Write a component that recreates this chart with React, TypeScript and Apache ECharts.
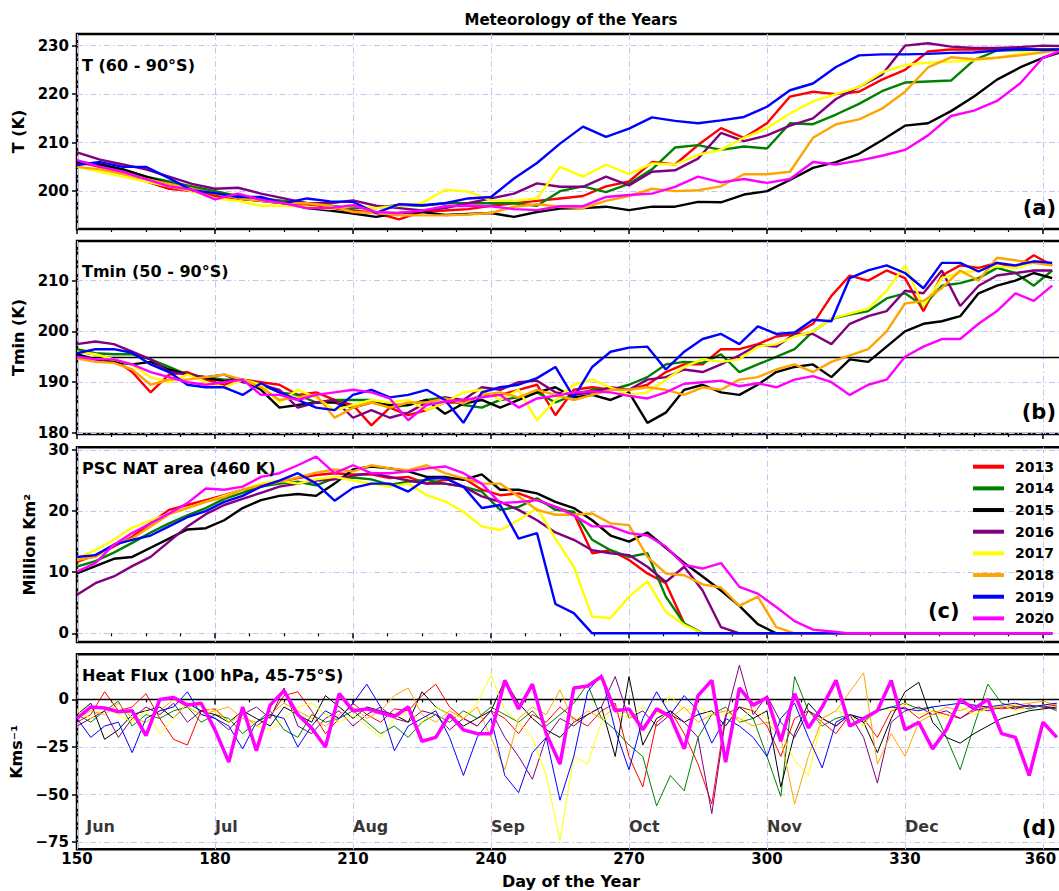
import React, { useEffect, useRef } from "react";
import * as echarts from "echarts";

const FONT = "DejaVu Sans";

const YEARS = ["2013", "2014", "2015", "2016", "2017", "2018", "2019", "2020"];
const YEAR_COLORS = ["#ff0000", "#008000", "#000000", "#800080", "#ffff00", "#ffa500", "#0000ff", "#ff00ff"];

// ---- Panel (a): polar-cap mean temperature, 60-90°S ----
const DAYS_T = [150, 155, 160, 165, 170, 175, 180, 185, 190, 195, 200, 205, 210, 215, 220, 225, 230, 235, 240, 245, 250, 255, 260, 265, 270, 275, 280, 285, 290, 295, 300, 305, 310, 315, 320, 325, 330, 335, 340, 345, 350, 355, 360, 365];
const T_2013 = [206, 205, 204, 202, 200.5, 200, 199, 198.5, 198, 197.5, 197, 196.5, 196, 195.5, 194.2, 195.8, 196, 196.3, 197, 197.5, 198, 198.5, 199, 201, 202, 206, 205.5, 209.5, 213, 211, 214, 219.5, 220.5, 220, 220.5, 223, 225, 228.8, 229.2, 229.2, 229.3, 229.4, 229.2, 229.3];
const T_2014 = [206, 205.5, 204.5, 203, 202, 201, 200, 199, 198.5, 198, 197.5, 197, 196.5, 196.5, 197.2, 197, 197.5, 197.5, 197.5, 197.5, 197, 200, 201, 199.8, 201.5, 204.5, 209, 209.5, 208.5, 209.2, 208.8, 214, 213.8, 215.8, 218, 220.6, 222.4, 222.6, 222.8, 227, 229, 229.1, 229.2, 229.3];
const T_2015 = [206, 205.5, 204.5, 203, 201.5, 200.5, 199.5, 198.5, 198, 197.5, 196.5, 196, 195.4, 194.7, 195.5, 195.7, 195.1, 195.3, 195.5, 194.7, 195.7, 196.4, 196.5, 196.8, 196.1, 196.8, 196.8, 197.8, 197.7, 199.3, 200, 202.3, 204.8, 206, 207.7, 210.5, 213.5, 214, 216.5, 219.5, 223, 225.5, 227.5, 229];
const T_2016 = [208, 206.5, 205.5, 204.5, 203, 201.5, 200.5, 200.7, 199.5, 198.5, 197.5, 197.5, 198.1, 197, 196.5, 196, 196.5, 197.5, 198.5, 199.5, 201.6, 200.9, 200.9, 203, 201.2, 204, 204.3, 206.7, 212, 210.3, 211.5, 213.5, 215, 219, 221.5, 224, 230, 230.5, 229.8, 229.5, 229.5, 229.7, 230, 229.9];
const T_2017 = [205, 204, 203, 202, 201, 200, 198.5, 198, 197, 197, 196.8, 196.3, 197, 196.5, 197, 197.5, 200.3, 199.9, 198.1, 198, 198.5, 205, 203, 205.5, 203.5, 205.7, 205.5, 207.5, 208.5, 211, 213, 216, 218.5, 220, 221.5, 224.5, 226, 226.5, 226.7, 227, 227.5, 228.3, 228.8, 229.2];
const T_2018 = [205, 204.5, 203.5, 202.5, 201.5, 200.5, 199.5, 198.5, 198, 197.5, 197.5, 197, 195.7, 195.5, 195, 195, 195, 195.2, 195.5, 196.8, 197.3, 196.8, 196.5, 198, 199, 200.5, 200, 200.2, 201, 203.5, 203.5, 204, 211, 213.8, 214.8, 217, 220.5, 225.5, 227.6, 227.2, 227.5, 228, 228.6, 229.2];
const T_2019 = [205.4, 206, 205, 205, 202.7, 200.2, 199.6, 198.8, 198.8, 197.5, 198.5, 197.9, 197.8, 195.5, 197.3, 197.1, 197.5, 198.5, 198.8, 202.6, 205.8, 209.8, 213.3, 211.2, 212.9, 215.2, 214.5, 214, 214.6, 215.3, 217.4, 220.8, 222.2, 225.6, 228, 228.2, 228.2, 228.3, 228.5, 228.6, 229, 229.3, 229.1, 229.2];
const T_2020 = [206.4, 205, 204, 202.5, 201, 200.3, 198.3, 199.5, 198.2, 197.5, 196.5, 196.5, 197.1, 195.7, 195.5, 196, 196.9, 197, 196.9, 196.3, 196.1, 196.9, 196.9, 198.8, 199.2, 199.5, 200.9, 203, 201.8, 202.5, 201.7, 202.5, 206, 205.5, 206.3, 207.3, 208.5, 211.5, 215.5, 216.6, 218.6, 222.2, 227.5, 229.4];

// ---- Panels (b) and (c) share a 4-day sampling ----
const DAYS_4 = [150, 154, 158, 162, 166, 170, 174, 178, 182, 186, 190, 194, 198, 202, 206, 210, 214, 218, 222, 226, 230, 234, 238, 242, 246, 250, 254, 258, 262, 266, 270, 274, 278, 282, 286, 290, 294, 298, 302, 306, 310, 314, 318, 322, 326, 330, 334, 338, 342, 346, 350, 354, 358, 362];

// (b) minimum temperature, 50-90°S
const TMIN_2013 = [196, 195.5, 194.5, 192, 188, 191.5, 192, 190.5, 189.5, 190.5, 190, 189.5, 187.5, 188, 186.5, 185.5, 181.5, 185, 183.5, 184.5, 186, 186, 187.5, 187.5, 188.5, 189.5, 183.5, 188.5, 189, 188.5, 188.5, 189.5, 192, 193.5, 193.5, 196.5, 196.5, 197.5, 199, 199.5, 201.5, 207, 211, 210, 212, 210.5, 204, 211, 213, 212.5, 213.5, 212.5, 215, 213];
const TMIN_2014 = [196.5, 195.7, 195.5, 195.5, 194.5, 193, 191.5, 191, 190.5, 190.5, 189.5, 188, 187.5, 186, 186.5, 186.5, 186.5, 185, 185.5, 186.5, 187, 185.5, 185, 186.5, 187, 188, 186, 187.5, 188.5, 188.5, 189.5, 191, 193.5, 194, 193.8, 195.5, 192, 193.5, 195, 196.5, 200, 202.5, 203.3, 204, 206.5, 207.5, 205, 209, 209.5, 210.5, 212.5, 211.5, 209, 212];
const TMIN_2015 = [195.5, 194.5, 194, 193.5, 194, 192.5, 191.5, 190.8, 190.2, 190.5, 188.5, 185, 185.5, 186, 186, 185, 186, 185.5, 185.5, 186.5, 183.8, 185.8, 186.5, 185, 186.5, 188, 189, 187, 187.5, 186.5, 188, 182, 184, 188.5, 189.5, 188, 187.5, 189.5, 192, 193, 193.5, 191, 194.5, 194, 197, 200, 201.5, 202, 203, 207.5, 209, 210, 211.5, 210.5];
const TMIN_2016 = [197.5, 198, 197.5, 196, 194.5, 192, 191.5, 191, 191.5, 190, 189.5, 188.5, 185, 186, 186.5, 183, 184.5, 183, 184, 186, 187, 186.5, 189, 188.5, 190, 190.3, 188, 187.5, 188, 189, 188.5, 190.5, 191, 192.5, 192, 193.5, 195.3, 197.3, 197, 199.5, 199.5, 197.5, 201.5, 203, 204, 208, 207.5, 212, 205, 209, 211, 211.5, 212, 212];
const TMIN_2017 = [196, 195.5, 194.5, 193.5, 191, 190, 191.5, 190, 189, 190.5, 189.5, 186, 188.5, 187, 184.5, 185.5, 186.5, 186, 186.5, 184.5, 186, 188, 188.5, 186.5, 188.5, 182.5, 186.5, 189.5, 190.5, 189, 187.5, 188, 190.5, 193, 194.5, 194, 194.5, 197, 197.5, 199, 200, 202.5, 203.5, 204.5, 208, 213, 205, 210.5, 211.5, 212, 212.8, 212.5, 213.5, 213];
const TMIN_2018 = [194.7, 194, 193.8, 192.5, 189.5, 190.5, 190.5, 191, 191.5, 190.5, 189, 186.5, 187, 187.5, 183, 185, 186, 185, 186, 186, 186.8, 185.8, 187.5, 188, 187, 188.5, 187.5, 186.5, 187.5, 188.5, 188.5, 189, 188.5, 187.5, 189, 188.5, 190.5, 191, 192.5, 193.5, 192, 194, 195.3, 196.5, 200, 205.5, 206, 208.5, 212, 210, 214.5, 214, 213.5, 213];
const TMIN_2019 = [195.7, 196.5, 196.5, 195.8, 193.5, 192, 189.5, 189, 189, 187.5, 189.8, 188, 186.5, 185, 184.5, 187.5, 188.5, 187, 187.5, 188.5, 186.5, 182, 188, 189, 189.5, 190.8, 193, 187, 193, 196, 196.8, 197, 192.5, 196, 198.5, 199.5, 197.5, 201, 199.5, 199.8, 202.3, 202, 210.5, 212, 213, 211.5, 208.5, 213.5, 213.5, 211.8, 213.5, 213, 213.8, 213.5];
const TMIN_2020 = [195, 194.5, 194.5, 193.5, 192, 191, 190, 189.5, 190, 190.5, 187.5, 187.5, 186.5, 187.5, 188, 188.5, 188, 186.8, 182.5, 185.5, 186.2, 186.5, 187, 187.5, 185, 186.8, 187.3, 188, 188.2, 188, 187.3, 186.8, 188, 189.7, 190, 190.3, 189.2, 189.8, 189, 190.5, 191.2, 190, 187.5, 189.5, 190.5, 195, 197, 198.5, 198.5, 201.5, 204, 207.5, 206, 209];
const TMIN_THRESHOLD = 195;

// (c) PSC NAT area at 460 K, million km²
const NAT_2013 = [11.7, 12.8, 14.2, 15.8, 18, 20.2, 21, 21.8, 22.6, 23.5, 24, 24.8, 25.4, 25.9, 26.2, 26, 26, 25.4, 25.6, 24.5, 25.1, 25.4, 23.5, 22.6, 22.9, 21.8, 20.7, 19.6, 13.1, 13.6, 12, 9.8, 8.2, 1.6, 0, 0, 0, 0, 0, 0, 0, 0, 0, 0, 0, 0, 0, 0, 0, 0, 0, 0, 0, 0];
const NAT_2014 = [10.9, 11.8, 13.2, 14.8, 16.5, 18, 19.3, 20.5, 22, 23, 24, 24.5, 24.8, 24.2, 25.4, 25.5, 25.2, 24.3, 24.8, 25.1, 24.5, 24, 23.2, 20.2, 20.7, 22.1, 20.2, 19.9, 15.3, 13.6, 12.5, 13.1, 6, 1.6, 0, 0, 0, 0, 0, 0, 0, 0, 0, 0, 0, 0, 0, 0, 0, 0, 0, 0, 0, 0];
const NAT_2015 = [9.8, 11, 12.2, 12.5, 14, 15.5, 17, 17.2, 18.5, 20.5, 21.8, 22.5, 22.8, 22.5, 24.5, 26.8, 27.3, 27, 26.5, 25.6, 25.6, 25.1, 26, 23.5, 23.5, 22.9, 21.5, 20.5, 18.5, 16, 15, 16.5, 14, 11.5, 9.3, 7, 4.5, 1.5, 0, 0, 0, 0, 0, 0, 0, 0, 0, 0, 0, 0, 0, 0, 0, 0];
const NAT_2016 = [6.3, 8.2, 9.3, 11, 12.5, 15, 17.5, 19.5, 21, 22, 23, 24, 24.5, 25, 25.2, 25.8, 26.2, 25.6, 25, 24.5, 24.5, 24, 22.4, 21.5, 20.2, 18.5, 16.5, 15.3, 13.6, 13.1, 12.8, 10.9, 8.4, 10.9, 7, 1, 0, 0, 0, 0, 0, 0, 0, 0, 0, 0, 0, 0, 0, 0, 0, 0, 0, 0];
const NAT_2017 = [12.3, 13.6, 15.3, 17.3, 18.5, 19.5, 20.5, 21.5, 22.5, 23.5, 24.5, 25, 24.5, 25.2, 25.6, 25, 24.5, 24, 24.5, 22.6, 21.6, 19.9, 17.5, 16.9, 18.5, 20.5, 15.5, 10.9, 2.7, 2.5, 6, 8.5, 3.5, 1.4, 0, 0, 0, 0, 0, 0, 0, 0, 0, 0, 0, 0, 0, 0, 0, 0, 0, 0, 0, 0];
const NAT_2018 = [12, 12.5, 14.5, 15.5, 17.5, 19.5, 20.5, 21.5, 22.3, 23.5, 24.2, 24.8, 25.5, 26.3, 26.8, 26.5, 27.5, 27, 26.7, 27.5, 26.2, 25.4, 24.5, 24.5, 22.4, 20.2, 19.4, 19.4, 19.6, 18, 17.7, 12.5, 9.8, 9.5, 8, 7.5, 4.5, 6, 1, 0, 0, 0, 0, 0, 0, 0, 0, 0, 0, 0, 0, 0, 0, 0];
const NAT_2019 = [12.5, 12.8, 14.5, 15.3, 16, 17.5, 19, 20, 21.5, 22.5, 24, 25, 26.2, 24.5, 21.7, 23.8, 24.5, 24.5, 23.2, 25.3, 25.4, 24, 20.5, 21, 15.5, 16.4, 4.8, 3.3, 0, 0, 0, 0, 0, 0, 0, 0, 0, 0, 0, 0, 0, 0, 0, 0, 0, 0, 0, 0, 0, 0, 0, 0, 0, 0];
const NAT_2020 = [10.1, 11.5, 14.5, 16.4, 18, 19.6, 21.3, 23.7, 23.5, 24, 25.6, 26.2, 27.5, 28.9, 26.2, 27.5, 26.2, 26.2, 26.5, 27, 27.3, 26.2, 24.5, 21.3, 21.5, 21.8, 20.7, 19.3, 17.5, 17.5, 16.4, 16, 14.2, 11.2, 10.6, 11.5, 7.6, 6.5, 4.3, 2, 0.6, 0.3, 0, 0, 0, 0, 0, 0, 0, 0, 0, 0, 0, 0];

// ---- Panel (d): eddy heat flux at 100 hPa, 45-75°S (3-day sampling) ----
const DAYS_3 = [150, 153, 156, 159, 162, 165, 168, 171, 174, 177, 180, 183, 186, 189, 192, 195, 198, 201, 204, 207, 210, 213, 216, 219, 222, 225, 228, 231, 234, 237, 240, 243, 246, 249, 252, 255, 258, 261, 264, 267, 270, 273, 276, 279, 282, 285, 288, 291, 294, 297, 300, 303, 306, 309, 312, 315, 318, 321, 324, 327, 330, 333, 336, 339, 342, 345, 348, 351, 354, 357, 360, 363];
const HF_2013 = [
  -12, -8, 4, -6, -4, 3, -10, -21, -24, -6,
  -5, -12, -8, -14, -9, 2, 4, -6, -18, -10,
  -2, -8, -12, -5, -6, 2, 8, -4, -10, -14,
  -6, -10, -18, -8, -12, -4, -10, -14, -6, -2,
  -30, -46, -12, -6, -18, -34, -55, -8, -4, -6,
  -14, -30, -10, -6, -12, -18, -8, -10, -20, -6,
  -4, -10, -6, -8, -10, -6, -4, -5, -4, -3,
  -4, -3,
];
const HF_2014 = [
  -8, -12, -6, -1, -14, -8, -10, -6, -4, -12,
  -8, -10, -18, -12, -6, -16, -20, -8, -12, -10,
  -6, -12, -18, -14, -20, -12, -8, -12, -6, -10,
  -4, -8, -12, -6, -14, -8, -2, 8, -10, -16,
  -24, -30, -56, -40, -48, -20, -8, -4, -12, -10,
  -30, -51, 12, -6, -14, -10, -8, -12, -6, -4,
  -2, -5, -4, -20, -37, -14, 8, -2, -4, -5,
  -3, -6,
];
const HF_2015 = [
  -8, -2, -21, -16, -8, -6, -4, -10, -2, -6,
  -8, -12, -6, -10, -14, -4, -8, -12, 2, -4,
  -10, -4, -6, -8, -12, 4, -4, -8, -14, -10,
  -6, 10, -2, -10, -16, -20, -12, -8, -4, -30,
  12, -24, -10, -6, -12, -8, -6, -14, -4, -10,
  -6, -46, -18, -2, -10, -14, -8, -12, -28, -10,
  4, 9, -12, -20, -23, -18, -14, -10, -8, -6,
  -5, -4,
];
const HF_2016 = [
  -14, -10, -6, -20, -10, -4, -8, -2, -12, -6,
  -10, -16, -8, -4, -10, 6, -14, -18, -10, -6,
  -14, -8, -4, -10, -12, -6, -8, -16, -10, -14,
  -6, -20, -30, -42, -20, -10, -14, -8, -4, 12,
  -10, -6, -14, -8, -12, -20, -60, -10, 18, -8,
  2, -12, -20, -6, -10, -14, -8, -20, -44, -12,
  -6, -4, -8, -6, -10, -5, -6, -4, -5, -3,
  -4, -5,
];
const HF_2017 = [
  -6, -10, -4, -8, -12, -6, -18, -10, -2, -4,
  -6, -12, -8, -14, -16, -10, -4, -2, -8, -12,
  -8, -14, -20, -10, -6, -12, -4, -8, -10, -2,
  13, -6, -12, -20, -40, -74, -30, -34, -12, -6,
  -10, -4, -8, 2, -6, -4, -8, -6, -12, -4,
  -10, -18, -32, -40, -10, -6, -8, -14, -4, -6,
  -2, -8, -6, -10, -4, -8, -5, -3, -6, -4,
  -3, -2,
];
const HF_2018 = [
  -10, -6, -8, -2, -10, -12, -6, 0, -4, -8,
  -6, -4, -10, -12, -8, -2, -6, -10, -14, -8,
  -4, -10, -6, 2, 6, -8, -12, -6, -10, -4,
  -20, -37, -10, -4, -8, 5, -12, -6, -10, -4,
  -8, -14, -6, -10, -4, -12, -8, -6, -10, -14,
  -12, -20, -55, -30, -10, -6, 4, 14, -34, -18,
  -30, -12, -8, -4, -6, -3, -5, -4, -3, -2,
  -1, -3,
];
const HF_2019 = [
  -10, -20, -14, -12, -28, -10, -6, -4, 4, -8,
  -10, -14, -26, -12, -8, -10, -25, -14, -6, -10,
  -2, 8, -4, -27, -14, -10, -6, -20, -40, -20,
  -10, -40, -49, -28, -20, -53, -30, 4, 13, -16,
  -37, -10, 4, -8, 2, -6, -23, -10, -14, -20,
  -30, -10, -2, -20, -36, -12, -8, -10, -6, -4,
  -5, -6, -4, -3, -2, -3, -4, -3, -2, -4,
  -3, -2,
];
const HF_2020 = [
  -10, -4, -4.5, -6.5, -6, -19, 0, 1, -3, -2,
  -16, -33, -4, -27, -3, 4.5, -8, -15, -25, 3,
  -6, -5, -7, -9, -4, -22, -20, -8, -16, -18,
  -18, 10, -5, 8, -18, -34, 6, 7, 12, -6,
  -5, -16, -5, -9, -26, 2, 10, -33, 6, -3,
  1, -22, 3, -15, -4, 10, -14, -10, -6, 10,
  -16, -12, -26, -16, 0, -5, 0, -18, -20, -40,
  -12, -20,
];

// Tick values and month markers
const X_TICK_STEP = 30;
const X_LAST_LABEL = 360;
const T_TICKS = [200, 210, 220, 230];
const TMIN_TICKS = [180, 190, 200, 210];
const NAT_TICKS = [0, 10, 20, 30];
const HF_TICKS = [-75, -50, -25, 0];
const MONTHS = ["Jun", "Jul", "Aug", "Sep", "Oct", "Nov", "Dec"];
const MONTH_DAYS = [152, 180, 210, 240, 270, 300, 330];

// Layout: the canvas is wider than the visible frame, so the day axis
// runs on past the right edge of the page (as in a cropped figure).
const VIEW_W = 1059;
const VIEW_H = 891;
const CANVAS_W = 1200;
const GRID_LEFT = 77;
const GRID_RIGHT = 19; // day 390 lands at x = 1181
const X_MIN = 150;
const X_MAX = 390;
const MONTH_LABEL_Y = -67;

const PANELS = [
  { top: 34, height: 195, min: 192.2, max: 232.4, ticks: T_TICKS, name: "T (K)", nameGap: 41, days: DAYS_T, values: [T_2013, T_2014, T_2015, T_2016, T_2017, T_2018, T_2019, T_2020] },
  { top: 241, height: 193, min: 179.8, max: 217.8, ticks: TMIN_TICKS, name: "Tmin (K)", nameGap: 40, days: DAYS_4, values: [TMIN_2013, TMIN_2014, TMIN_2015, TMIN_2016, TMIN_2017, TMIN_2018, TMIN_2019, TMIN_2020] },
  { top: 447.3, height: 194.7, min: -1.42, max: 30.44, ticks: NAT_TICKS, name: "Million Km²", nameGap: 30, days: DAYS_4, values: [NAT_2013, NAT_2014, NAT_2015, NAT_2016, NAT_2017, NAT_2018, NAT_2019, NAT_2020] },
  { top: 654.3, height: 195, min: -78.8, max: 23.7, ticks: HF_TICKS, name: "Kms⁻¹", nameGap: 45, days: DAYS_3, values: [HF_2013, HF_2014, HF_2015, HF_2016, HF_2017, HF_2018, HF_2019, HF_2020] },
];

const GRID_LINE = { color: "#c4c4f2", width: 1, type: [6, 3, 1.5, 3] as number[] };
const boldText = (size: number) => ({ fontFamily: FONT, fontWeight: "bold" as const, fontSize: size, color: "#000" });
const fmtTick = (v: number) => String(v).replace("-", "\u2212");

function buildOption() {
  const grid = PANELS.map((p) => ({
    left: GRID_LEFT,
    right: GRID_RIGHT,
    top: p.top,
    height: p.height,
    show: true,
    borderColor: "#000",
    borderWidth: 2.5,
    backgroundColor: "transparent",
  }));

  const xAxis = PANELS.map((_, i) => ({
    type: "value",
    gridIndex: i,
    min: X_MIN,
    max: X_MAX,
    interval: X_TICK_STEP,
    axisLine: { show: false },
    axisTick: { show: true, inside: false, length: 5, lineStyle: { color: "#000", width: 1.5 } },
    minorTick: { show: true, splitNumber: 4, length: 3, lineStyle: { color: "#000", width: 1.2 } },
    minorSplitLine: { show: false },
    splitLine: { show: true, lineStyle: GRID_LINE },
    axisLabel: {
      show: i === 3,
      margin: 2,
      ...boldText(15),
      // the last visible label sits against the page edge; nudge it inwards a little
      rich: { edge: { ...boldText(15), padding: [0, 5, 0, 0] } },
      formatter: (v: number) => {
        if (v % X_TICK_STEP !== 0 || v > X_LAST_LABEL) return "";
        return v === X_LAST_LABEL ? `{edge|${v}}` : String(v);
      },
    },
  }));

  const yAxis = PANELS.map((p, i) => ({
    type: "value",
    gridIndex: i,
    min: p.min,
    max: p.max,
    axisLine: { show: false },
    axisTick: { show: true, inside: false, length: 5, customValues: p.ticks, lineStyle: { color: "#000", width: 1.5 } },
    axisLabel: { show: true, customValues: p.ticks, margin: 8, ...boldText(15), formatter: fmtTick },
    splitLine: { show: true, lineStyle: GRID_LINE },
    name: p.name,
    nameLocation: "middle",
    nameGap: p.nameGap,
    nameRotate: 90,
    nameTextStyle: boldText(16),
  }));

  const series: any[] = [];
  PANELS.forEach((p, pi) => {
    YEARS.forEach((year, yi) => {
      const vals = p.values[yi];
      const isHF = pi === 3;
      const width = isHF ? (year === "2020" ? 3.5 : 1) : 2.4;
      const s: any = {
        type: "line",
        name: year,
        xAxisIndex: pi,
        yAxisIndex: pi,
        data: p.days.map((d, k) => [d, vals[k]]),
        symbol: "none",
        showSymbol: false,
        lineStyle: { color: YEAR_COLORS[yi], width },
        itemStyle: { color: YEAR_COLORS[yi] },
        z: 2 + yi,
        silent: true,
      };
      if (yi === 0 && (pi === 1 || pi === 3)) {
        s.markLine = {
          silent: true,
          symbol: "none",
          label: { show: false },
          lineStyle: { color: "#000", width: 1.4, type: "solid" },
          data: [{ yAxis: pi === 1 ? TMIN_THRESHOLD : 0 }],
        };
      }
      series.push(s);
    });
  });

  // month names along the bottom of panel (d)
  series.push({
    type: "scatter",
    name: "months",
    xAxisIndex: 3,
    yAxisIndex: 3,
    symbolSize: 0,
    silent: true,
    z: 20,
    data: MONTH_DAYS.map((d) => [d, MONTH_LABEL_Y]),
    label: {
      show: true,
      position: "right",
      distance: 0,
      ...boldText(16),
      formatter: (prm: any) => MONTHS[prm.dataIndex],
    },
  });

  const text = (x: number, y: number, str: string, size: number, align: string) => ({
    type: "text",
    x,
    y,
    z: 50,
    silent: true,
    style: {
      text: str,
      font: `bold ${size}px "${FONT}"`,
      fill: "#000",
      align,
      verticalAlign: "middle",
      textAlign: align,
      textVerticalAlign: "middle",
    },
  });

  // the x-axis title is centred on the visible part of the frame, so it is drawn as graphic text
  const graphic = [
    text(571, 20, "Meteorology of the Years", 15, "center"),
    text(571, 881, "Day of the Year", 16, "center"),
    text(82, 65, "T (60 - 90°S)", 16, "left"),
    text(82, 271, "Tmin (50 - 90°S)", 16, "left"),
    text(82, 468, "PSC NAT area (460 K)", 16, "left"),
    text(82, 675, "Heat Flux (100 hPa, 45-75°S)", 16, "left"),
    text(1056, 207.5, "(a)", 21, "right"),
    text(1056, 411.7, "(b)", 21, "right"),
    text(928, 611, "(c)", 21, "left"),
    text(1056, 827.5, "(d)", 21, "right"),
  ];

  return {
    animation: false,
    backgroundColor: "#ffffff",
    grid,
    xAxis,
    yAxis,
    series,
    graphic,
    legend: {
      data: YEARS,
      orient: "vertical",
      left: 973,
      top: 458.7,
      padding: 0,
      itemWidth: 31,
      itemHeight: 4,
      itemGap: 5.67,
      icon: "rect",
      selectedMode: false,
      textStyle: { ...boldText(14), lineHeight: 16, padding: [0, 0, 0, 6] },
    },
  };
}

export default function App() {
  const ref = useRef<HTMLDivElement>(null);
  useEffect(() => {
    if (!ref.current) return;
    const chart = echarts.init(ref.current, null, { renderer: "svg" });
    chart.setOption(buildOption() as any);
    return () => chart.dispose();
  }, []);
  return (
    <div
      style={{ position: "absolute", left: 0, top: 0, width: VIEW_W, height: VIEW_H, overflow: "hidden", background: "#fff" }}
    >
      <div ref={ref} style={{ width: CANVAS_W, height: VIEW_H }} />
    </div>
  );
}
